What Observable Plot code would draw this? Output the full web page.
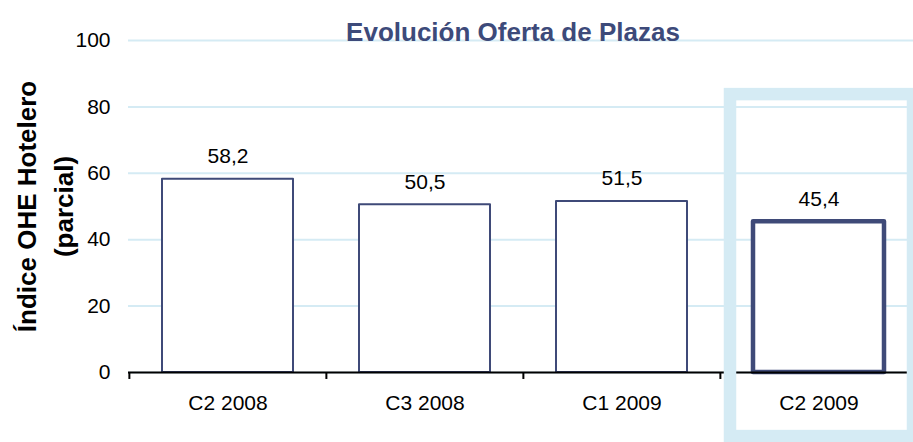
<!DOCTYPE html>
<html><head><meta charset="utf-8">
<script src="https://cdn.jsdelivr.net/npm/d3@7"></script>
<script src="https://cdn.jsdelivr.net/npm/@observablehq/plot@0.6"></script>
<style>
body{margin:0;background:#fff;overflow:hidden}
#chart svg{overflow:visible;display:block}
</style>
</head><body><div id="chart"></div>
<script>
const categories = ["C2 2008", "C3 2008", "C1 2009", "C2 2009"];
const values = [58.2, 50.5, 51.5, 45.4];
const yTicks = [0, 20, 40, 60, 80, 100];
const highlighted = ["C2 2009"];
const highlightSpan = [-19.3, 83.7];
const title = "Evolución Oferta de Plazas";
const yTitle = ["Índice OHE Hotelero", "(parcial)"];

const data = categories.map((c, i) => ({
  cat: c,
  value: values[i],
  label: values[i].toFixed(1).replace(".", ","),
  hi: highlighted.includes(c)
}));

const W = 913, H = 442, mL = 128, mR = -4;
const bw = (W - mR - mL) / categories.length;
const navy = "#3f4a78";
const grid = "#d5ebf4";
const font = "Arial, 'Liberation Sans', sans-serif";

const chart = Plot.plot({
  width: W,
  height: H,
  marginLeft: mL,
  marginRight: mR,
  marginTop: 40,
  marginBottom: 70,
  style: {fontFamily: font, fontSize: "21px", color: "#000", background: "#fff"},
  x: {domain: categories, padding: 0},
  y: {domain: [0, 100]},
  marks: [
    Plot.gridY(yTicks, {stroke: grid, strokeOpacity: 1, strokeWidth: 2}),
    Plot.barY(data, {x: "cat", y: "value", fill: "#fff", stroke: navy,
      strokeWidth: d => d.hi ? 4.5 : 2, strokeLinejoin: "round", insetLeft: 33, insetRight: 33}),
    Plot.ruleY([0], {stroke: "#000", strokeWidth: 2}),
    Plot.ruleX(categories, {x: d => d, y1: 0, y2: -2.1, dx: -bw / 2, stroke: "#000", strokeWidth: 2}),
    Plot.barY(highlighted, {x: d => d, y1: highlightSpan[0], y2: highlightSpan[1], fill: "none",
      stroke: grid, strokeWidth: 12.5, insetLeft: 10, insetRight: 4}),
    Plot.text(data, {x: "cat", y: "value", text: "label", dy: -23, fontSize: 21, fill: "#000"}),
    Plot.text([title], {text: d => d, frameAnchor: "top", dy: -18, dx: -10, fontSize: 26, fontWeight: "bold", fill: "#3d4a7a"}),
    Plot.text([yTitle[0]], {text: d => d, frameAnchor: "left", textAnchor: "middle", lineAnchor: "middle", rotate: -90, dx: -100.5, fontSize: 26, fontWeight: "bold", fill: "#000"}),
    Plot.text([yTitle[1]], {text: d => d, frameAnchor: "left", textAnchor: "middle", lineAnchor: "middle", rotate: -90, dx: -64, fontSize: 26, fontWeight: "bold", fill: "#000"}),
    Plot.axisY({ticks: yTicks, tickSize: 0, tickPadding: 18, fontSize: 21, label: null}),
    Plot.axisX({tickSize: 0, tickPadding: 23, fontSize: 21, label: null})
  ]
});
document.getElementById("chart").appendChild(chart);
</script>
</body></html>
